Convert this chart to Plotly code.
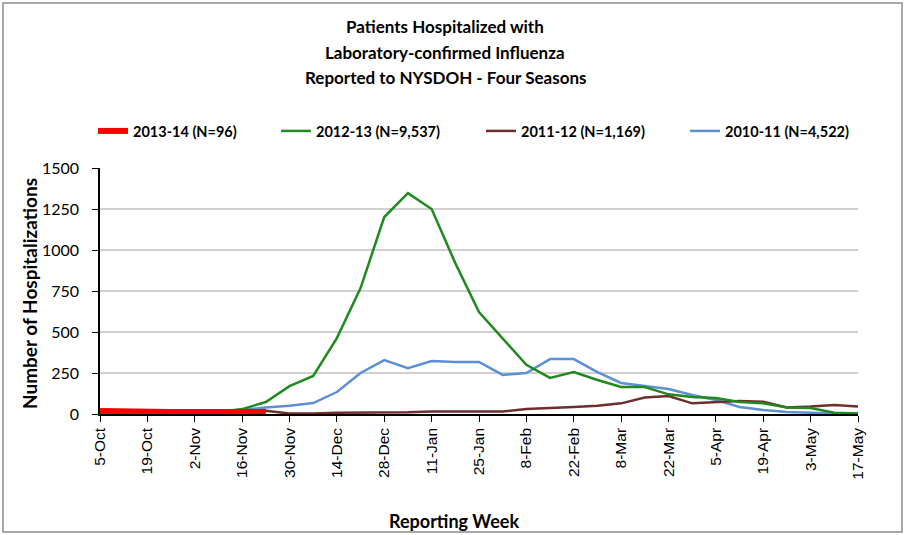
import plotly.graph_objects as go

weeks = ["5-Oct", "12-Oct", "19-Oct", "26-Oct", "2-Nov", "9-Nov", "16-Nov", "23-Nov",
         "30-Nov", "7-Dec", "14-Dec", "21-Dec", "28-Dec", "4-Jan", "11-Jan", "18-Jan",
         "25-Jan", "1-Feb", "8-Feb", "15-Feb", "22-Feb", "1-Mar", "8-Mar", "15-Mar",
         "22-Mar", "29-Mar", "5-Apr", "12-Apr", "19-Apr", "26-Apr", "3-May", "10-May", "17-May"]

s2013_14 = [18, 14, 10, 12, 12, 10, 8, 12]
s2012_13 = [2, 2, 3, 5, 8, 12, 30, 73, 170, 232, 463, 768, 1201, 1347, 1250, 920,
            622, 463, 300, 220, 256, 207, 165, 165, 120, 104, 98, 73, 65, 40, 37, 8, 3]
s2011_12 = [15, 12, 10, 12, 15, 15, 18, 20, 3, 3, 8, 8, 10, 10, 15, 15,
            15, 15, 30, 35, 43, 50, 65, 100, 110, 65, 73, 80, 75, 40, 45, 55, 45]
s2010_11 = [5, 6, 8, 10, 12, 15, 25, 40, 50, 67, 134, 250, 329, 280, 323, 317,
            317, 238, 250, 335, 335, 256, 189, 171, 152, 116, 85, 43, 24, 12, 6, 3, 3]

names = ["2013-14 (N=96)", "2012-13 (N=9,537)", "2011-12 (N=1,169)", "2010-11 (N=4,522)"]
title_lines = ["Patients Hospitalized with", "Laboratory-confirmed Influenza",
               "Reported to NYSDOH - Four Seasons"]

L, R, T, B = 100, 858, 168, 414
W, H = 906, 535
pw, ph = R - L, B - T

def px(x):
    return (x - L) / pw

def py(y):
    return (B - y) / ph

xidx = list(range(len(weeks)))
fig = go.Figure()
fig.add_trace(go.Scatter(x=xidx, y=s2010_11, mode="lines", name=names[3], legend="legend4",
                         line=dict(color="#5b8fd6", width=2.5)))
fig.add_trace(go.Scatter(x=xidx, y=s2011_12, mode="lines", name=names[2], legend="legend3",
                         line=dict(color="#6e2e2e", width=2.5)))
fig.add_trace(go.Scatter(x=xidx, y=s2012_13, mode="lines", name=names[1], legend="legend2",
                         line=dict(color="#1f8a1f", width=2.5)))
fig.add_trace(go.Scatter(x=xidx[:len(s2013_14)], y=s2013_14, mode="lines", name=names[0],
                         legend="legend", line=dict(color="#ff0000", width=6)))

def leg(xpix):
    return dict(orientation="h", x=px(xpix), xanchor="left", y=py(131), yanchor="middle",
                font=dict(family="Lato", size=14.5, color="black", weight="bold"),
                bgcolor="rgba(0,0,0,0)", borderwidth=0)

tickv = xidx[::2]
tickt = weeks[::2]

annotations = []
for i, t in enumerate(title_lines):
    annotations.append(dict(text="<b>%s</b>" % t, xref="paper", yref="paper",
                            x=px(445), y=py(27 + 25.5 * i), xanchor="center", yanchor="middle",
                            showarrow=False, font=dict(family="Lato", size=17, color="black")))
annotations.append(dict(text="<b>Reporting Week</b>", xref="paper", yref="paper",
                        x=px(454), y=py(521), xanchor="center", yanchor="middle",
                        showarrow=False, font=dict(family="Lato", size=18, color="black")))
annotations.append(dict(text="<b>Number of Hospitalizations</b>", xref="paper", yref="paper",
                        x=px(29), y=py(294), xanchor="center", yanchor="middle", textangle=-90,
                        showarrow=False, font=dict(family="Lato", size=19, color="black")))

fig.update_layout(
    width=W, height=H,
    margin=dict(l=L, r=W - R, t=T, b=H - B),
    paper_bgcolor="white", plot_bgcolor="white",
    font=dict(family="Lato", color="black"),
    showlegend=True,
    legend=leg(93), legend2=leg(276), legend3=leg(481), legend4=leg(685),
    annotations=annotations,
    xaxis=dict(range=[0, 32], tickmode="array", tickvals=tickv, ticktext=tickt,
               tickangle=-90, ticks="outside", ticklen=6, tickcolor="black",
               showline=True, linecolor="black", linewidth=1.5,
               showgrid=False, zeroline=False,
               tickfont=dict(family="Liberation Sans", size=15.5, color="black")),
    yaxis=dict(range=[0, 1500], tickmode="array", tickvals=[0, 250, 500, 750, 1000, 1250, 1500],
               ticks="outside", ticklen=6, tickcolor="black", ticklabelstandoff=10,
               showline=True, linecolor="black", linewidth=1.5,
               showgrid=True, gridcolor="#d0d0d0", gridwidth=1.5, zeroline=False,
               tickfont=dict(family="Lato", size=16, color="black")),
    shapes=[dict(type="rect", xref="paper", yref="paper",
                 x0=px(3), x1=px(902), y0=py(532), y1=py(3),
                 line=dict(color="#8c8c8c", width=1.5), fillcolor="rgba(0,0,0,0)", layer="below")],
)

fig.write_html("out.html", config={"displayModeBar": False},
               post_script="document.body.style.margin='0';")
